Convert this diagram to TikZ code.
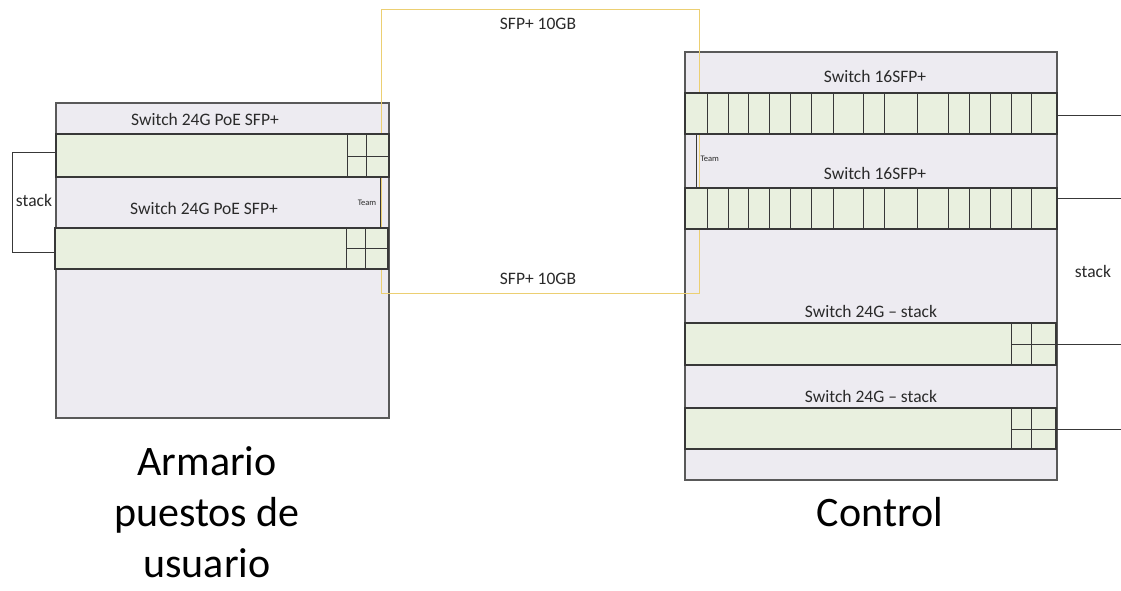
\documentclass[tikz,border=0pt]{standalone}
\usepackage{fontspec}
\setmainfont{Carlito}
\definecolor{cabfill}{HTML}{EDEBF1}
\definecolor{stripfill}{HTML}{E9F0DF}
\definecolor{linedark}{HTML}{383838}
\definecolor{linegray}{HTML}{595959}
\definecolor{sfpyellow}{HTML}{ECCF72}
\definecolor{textgray}{HTML}{2A2A2A}
\begin{document}
\begin{tikzpicture}[x=1pt,y=-1pt,
  cab/.style={draw=linegray,fill=cabfill,line width=1.3pt},
  strip/.style={draw=linedark,fill=stripfill,line width=1.1pt},
  port/.style={draw=linedark,line width=1pt},
  lbl/.style={font=\fontsize{17.5}{20}\selectfont,text=textgray},
  tiny/.style={font=\fontsize{8.5}{10}\selectfont,text=textgray},
  big/.style={font=\fontsize{42}{51}\selectfont,align=center,text=black},
  wire/.style={draw=linedark,line width=1pt},
  sfp/.style={draw=sfpyellow,line width=1pt},
  box/.style={inner sep=0pt,outer sep=0pt,anchor=north west}]
\useasboundingbox[fill=white] (0,0) rectangle (1121,590);

% cabinets
\node[cab,box,minimum width=333pt,minimum height=315pt] (L) at (56,103) {};
\node[cab,box,minimum width=372pt,minimum height=428pt] (R) at (685,52) {};

% SFP+ 10GB loop
\coordinate (y1) at (381,9);
\coordinate (y2) at (699,9);
\coordinate (y3) at (699,293);
\coordinate (y4) at (381,293);
\draw[sfp] (y1) -- (y2) -- (y3) -- (y4) -- cycle;

% left switches
\node[strip,box,minimum width=333pt,minimum height=43pt] (L1) at (56,134) {};
\node[strip,box,minimum width=333pt,minimum height=41pt] (L2) at (55,228) {};
\draw[port] (347,134) -- (347,177) (366,134) -- (366,177) (347,156) -- (389,156);
\draw[port] (346,228) -- (346,269) (365,228) -- (365,269) (346,248) -- (388,248);
\coordinate (lt1) at (380,177);
\coordinate (lt2) at (380,228);
\draw[wire] (lt1) -- (lt2);
\node[tiny] (lteam) at (367,203) {Team};
\node[lbl] (lh1) at (205,119) {Switch 24G PoE SFP+};
\node[lbl] (lh2) at (204,208) {Switch 24G PoE SFP+};

% stack bracket left
\coordinate (s1) at (56,152);
\coordinate (s2) at (12,152);
\coordinate (s3) at (12,252);
\coordinate (s4) at (55,252);
\draw[wire] (s1) -- (s2) -- (s3) -- (s4);
\node[lbl] (lstack) at (34,200) {stack};

% right switches
\node[strip,box,minimum width=372pt,minimum height=41pt] (R1) at (685,93) {};
\node[strip,box,minimum width=372pt,minimum height=41pt] (R2) at (685,188) {};
\foreach \x in {707,728,748,769,790,811,833,863,884,917,948,969,990,1011,1031}{
  \draw[port] (\x,93) -- (\x,134);
  \draw[port] (\x,188) -- (\x,229);
}
\coordinate (rt1) at (696,134);
\coordinate (rt2) at (696,188);
\draw[wire] (rt1) -- (rt2);
\node[tiny,anchor=west] (rteam) at (697,159) {Team};
\node[lbl] (rh1) at (875,76) {Switch 16SFP+};
\node[lbl] (rh2) at (875,173) {Switch 16SFP+};

\node[strip,box,minimum width=371pt,minimum height=42pt] (R3) at (685,323) {};
\node[strip,box,minimum width=371pt,minimum height=41pt] (R4) at (685,408) {};
\draw[port] (1011,323) -- (1011,365) (1031,323) -- (1031,365) (1011,344) -- (1056,344);
\draw[port] (1011,408) -- (1011,449) (1031,408) -- (1031,449) (1011,429) -- (1056,429);
\node[lbl] (rh3) at (871,311) {Switch 24G -- stack};
\node[lbl] (rh4) at (871,396) {Switch 24G -- stack};

% outgoing stack links
\coordinate (o1) at (1121,115);
\coordinate (o2) at (1121,198);
\coordinate (o3) at (1121,344);
\coordinate (o4) at (1121,429);
\draw[wire] (R1.east |- o1) -- (o1);
\draw[wire] (R2.east |- o2) -- (o2);
\draw[wire] (R3.east |- o3) -- (o3);
\draw[wire] (R4.east |- o4) -- (o4);
\node[lbl] (rstack) at (1093,271) {stack};

% SFP labels
\node[lbl] (sfpt) at (538,24) {SFP+ 10GB};
\node[lbl] (sfpb) at (538,279) {SFP+ 10GB};

% cabinet titles
\node[big,anchor=north] (ltitle) at (207,443) {Armario\\puestos de\\usuario};
\node[big] (rtitle) at (880,512) {Control};
\end{tikzpicture}
\end{document}
